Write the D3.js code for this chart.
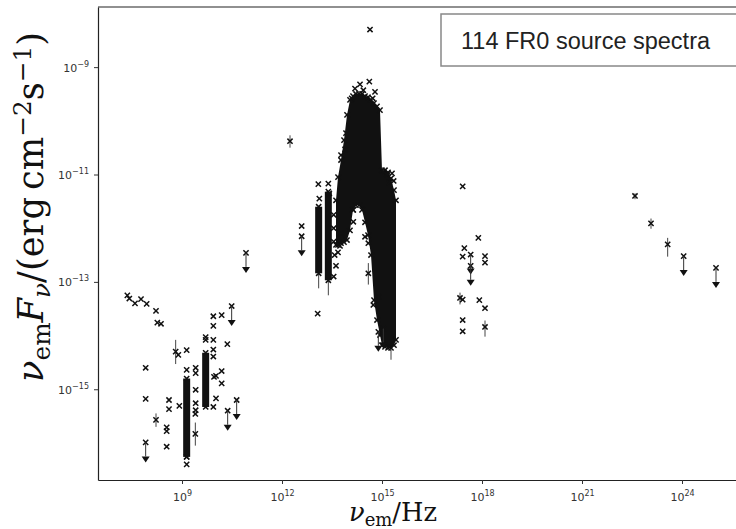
<!DOCTYPE html>
<html>
<head>
<meta charset="utf-8">
<script src="https://cdn.jsdelivr.net/npm/d3@7"></script>
<style>
  body { margin: 0; background: #fff; }
  svg { display: block; }
</style>
</head>
<body>
<svg id="chart" width="736" height="529"></svg>
<script>
// all values are log10: [log nu (Hz), log nuFnu (erg cm-2 s-1)]
const detections = [
    [7.36, -13.25], [7.42, -13.31], [7.59, -13.40], [7.77, -13.32], [7.94, -13.41], [8.22, -13.54],
    [8.26, -13.76], [8.37, -13.78], [8.81, -14.30], [8.89, -14.36], [9.14, -14.27],
    [7.91, -14.60], [7.91, -15.18], [8.22, -15.57],
    [8.61, -15.20], [8.61, -15.37], [8.54, -15.71], [8.54, -15.78], [8.54, -16.07], [8.92, -15.31],
    [9.14, -14.64], [9.14, -16.26], [9.14, -16.40],
    [9.41, -14.60], [9.41, -14.70], [9.41, -15.01], [9.41, -15.26], [9.41, -15.39], [9.40, -15.46], [9.40, -15.83],
    [9.71, -14.03], [9.71, -14.08],
    [9.94, -13.64], [9.94, -13.82], [9.94, -14.08], [9.94, -14.26], [9.94, -14.39], [10.19, -13.62],
    [9.96, -14.77], [10.02, -14.75], [10.19, -14.66], [10.19, -14.89], [10.02, -15.17], [9.94, -15.33],
    [10.36, -14.16],
    [12.24, -10.38], [12.59, -11.96], [13.09, -11.18], [13.12, -11.45], [13.39, -11.17], [13.42, -11.35], [13.07, -13.59],
    [13.55, -11.75], [13.55, -12.00], [13.55, -12.25], [13.58, -12.50], [13.62, -12.70], [13.55, -12.90],
    [13.68, -12.45], [13.74, -12.33], [13.77, -12.10],
    [14.14, -11.66], [14.14, -11.88], [14.49, -12.16], [14.59, -12.28], [14.59, -12.84], [14.74, -13.43], [14.89, -13.28],
    [14.64, -8.30], [14.19, -9.40], [14.34, -9.32], [14.62, -9.27], [14.79, -9.46], [14.09, -9.58], [14.44, -9.43], [14.72, -9.58],
    [13.92, -10.23], [13.77, -10.64], [13.89, -10.53],
    [15.04, -10.95], [15.15, -11.00], [15.30, -10.98], [15.22, -11.15], [15.35, -11.12],
    [17.42, -11.22], [17.89, -12.18], [17.47, -12.37], [17.42, -12.53], [18.09, -12.52], [18.09, -12.64],
    [17.34, -13.30], [17.42, -13.33], [17.92, -13.34], [18.09, -13.49], [17.42, -13.71], [17.42, -13.92], [18.09, -13.84],
    [22.59, -11.40], [23.07, -11.91], [23.57, -12.30]
];

const upperLimits = [
    [7.91, -15.99], [10.49, -13.45], [10.37, -15.40], [10.64, -15.20], [10.92, -12.46], [12.59, -12.15],
    [14.89, -13.93], [15.04, -13.87], [17.66, -12.49], [17.66, -12.70], [24.05, -12.52], [25.02, -12.74]
];

// [log nu, low, high]
const errorBars = [
    [8.81, -14.08, -14.53], [8.22, -15.45, -15.70], [9.40, -15.62, -16.05], [12.24, -10.27, -10.50],
    [13.10, -12.84, -13.12], [13.39, -12.97, -13.25], [14.59, -12.65, -13.05], [17.34, -13.20, -13.42],
    [18.09, -13.72, -14.02], [22.59, -11.35, -11.46], [23.07, -11.82, -12.01], [23.57, -12.18, -12.53],
    [15.27, -14.23, -14.45]
];

// packed columns of overlapping points: [log nu, top, bottom]
const denseColumns = [
    [9.14, -14.80, -16.26], [9.71, -14.32, -15.33], [13.10, -11.60, -12.84], [13.39, -11.32, -12.97]
];

// outline of the big optical/UV cloud: [log nu, top, bottom]
const blobEnvelope = [
    [13.62, -11.48, -12.31], [13.68, -11.05, -12.31], [13.77, -10.73, -12.28], [13.86, -10.36, -12.26],
    [13.95, -9.89, -12.22], [14.04, -9.61, -12.04], [14.13, -9.54, -11.66], [14.22, -9.50, -11.57],
    [14.31, -9.50, -11.57], [14.40, -9.50, -11.66], [14.49, -9.54, -11.89], [14.58, -9.56, -12.13],
    [14.67, -9.61, -12.50], [14.76, -9.67, -13.34], [14.85, -9.73, -13.71], [14.94, -9.80, -13.99],
    [15.00, -10.92, -14.18], [15.09, -10.92, -14.21], [15.18, -10.96, -14.23], [15.27, -11.07, -14.23],
    [15.36, -11.29, -14.18], [15.42, -11.48, -14.08]
];

const xTicks = [9, 12, 15, 18, 21, 24];
const yTicks = [-9, -11, -13, -15];
const legendLabel = '114 FR0 source spectra';

const svg = d3.select('#chart');
const m = { left: 98, right: 760, top: 7, bottom: 480 };

const x = d3.scaleLog().domain([10 ** 6.48, 10 ** 26.34]).range([m.left, m.right]);
const y = d3.scaleLog().domain([10 ** -7.88, 10 ** -16.69]).range([m.top, m.bottom]);
const px = (v) => x(10 ** v);
const py = (v) => y(10 ** v);

const sup = (e) => (e < 0 ? '\u2212' + Math.abs(e) : '' + e);

// axes
const xAxis = svg.append('g')
    .attr('transform', `translate(0,${m.bottom})`)
    .call(d3.axisBottom(x).tickValues(xTicks.map((e) => 10 ** e)).tickSize(4).tickSizeOuter(0).tickFormat(''));
const yAxis = svg.append('g')
    .attr('transform', `translate(${m.left},0)`)
    .call(d3.axisLeft(y).tickValues(yTicks.map((e) => 10 ** e)).tickSize(4).tickSizeOuter(0).tickFormat(''));

[xAxis, yAxis].forEach((g) => {
    g.select('.domain').attr('stroke', '#222').attr('stroke-width', 1.2);
    g.selectAll('.tick line').attr('stroke', '#333');
});

xAxis.selectAll('.tick').each(function (d) {
    const t = d3.select(this).append('text')
        .attr('y', 21).attr('text-anchor', 'middle')
        .attr('fill', '#333').attr('font-family', 'DejaVu Sans').attr('font-size', 11);
    t.append('tspan').text('10');
    t.append('tspan').attr('dy', -5).attr('font-size', 8).text(sup(Math.round(Math.log10(d))));
});
yAxis.selectAll('.tick').each(function (d) {
    const t = d3.select(this).append('text')
        .attr('x', -9).attr('y', 4).attr('text-anchor', 'end')
        .attr('fill', '#333').attr('font-family', 'DejaVu Sans').attr('font-size', 11);
    t.append('tspan').text('10');
    t.append('tspan').attr('dy', -5).attr('font-size', 8).text(sup(Math.round(Math.log10(d))));
});

// top spine
svg.append('line')
    .attr('x1', m.left).attr('x2', m.right).attr('y1', m.top).attr('y2', m.top)
    .attr('stroke', '#222').attr('stroke-width', 1.2);

const plot = svg.append('g');

// error bars
plot.selectAll('line.err')
    .data(errorBars)
    .join('line')
    .attr('class', 'err')
    .attr('x1', (d) => px(d[0])).attr('x2', (d) => px(d[0]))
    .attr('y1', (d) => py(d[1])).attr('y2', (d) => py(d[2]))
    .attr('stroke', '#444').attr('stroke-width', 1);

// the big cloud
const area = d3.area()
    .x((d) => px(d[0]))
    .y0((d) => py(d[2]))
    .y1((d) => py(d[1]));
plot.append('path')
    .attr('d', area(blobEnvelope))
    .attr('fill', '#111');

// packed columns
plot.selectAll('rect.col')
    .data(denseColumns)
    .join('rect')
    .attr('class', 'col')
    .attr('x', (d) => px(d[0]) - 3.5)
    .attr('width', 7)
    .attr('y', (d) => py(d[1]))
    .attr('height', (d) => py(d[2]) - py(d[1]))
    .attr('fill', '#111');

const cross = 'M-2.6,-2.6L2.6,2.6M-2.6,2.6L2.6,-2.6';
const drawMarkers = (data, cls) => {
    plot.selectAll('path.' + cls)
        .data(data)
        .join('path')
        .attr('class', cls)
        .attr('transform', (d) => `translate(${px(d[0])},${py(d[1])})`)
        .attr('d', cross)
        .attr('fill', 'none')
        .attr('stroke', '#111')
        .attr('stroke-width', 1.5);
};

// ragged edges of the cloud and columns
drawMarkers(blobEnvelope.flatMap((d) => [[d[0], d[1]], [d[0], d[2]]]), 'edge');
drawMarkers(denseColumns.flatMap((d) => [[d[0], d[1]], [d[0], d[2]]]), 'colEdge');
drawMarkers(detections, 'det');
drawMarkers(upperLimits, 'ul');

// upper limit arrows
const ul = plot.selectAll('g.arrow')
    .data(upperLimits)
    .join('g')
    .attr('class', 'arrow')
    .attr('transform', (d) => `translate(${px(d[0])},${py(d[1])})`);
ul.append('line')
    .attr('y1', 0).attr('y2', 14)
    .attr('stroke', '#333').attr('stroke-width', 1);
ul.append('path')
    .attr('d', 'M-4,14L4,14L0,20Z')
    .attr('fill', '#111');

// axis labels, sized to the span they take in the figure
const fitWidth = (sel, base, target) => {
    const len = sel.node().getComputedTextLength();
    sel.attr('font-size', base * target / len);
};

const yLabel = svg.append('text')
    .attr('transform', 'translate(43,207) rotate(-90)')
    .attr('text-anchor', 'middle')
    .attr('font-family', 'DejaVu Serif')
    .attr('font-size', 28)
    .attr('fill', '#111');
yLabel.append('tspan').attr('font-style', 'italic').text('\u03bd');
yLabel.append('tspan').attr('font-size', '0.7em').attr('dy', '0.3em').text('em');
yLabel.append('tspan').attr('font-style', 'italic').attr('dy', '-0.21em').text('F');
yLabel.append('tspan').attr('font-style', 'italic').attr('font-size', '0.7em').attr('dy', '0.3em').text('\u03bd');
yLabel.append('tspan').attr('dy', '-0.21em').text('/(erg\u2009cm');
yLabel.append('tspan').attr('font-size', '0.7em').attr('dy', '-0.5em').text('\u22122');
yLabel.append('tspan').attr('dy', '0.35em').text('s');
yLabel.append('tspan').attr('font-size', '0.7em').attr('dy', '-0.5em').text('\u22121');
yLabel.append('tspan').attr('dy', '0.35em').text(')');
fitWidth(yLabel, 28, 350);

const xLabel = svg.append('text')
    .attr('x', 393).attr('y', 521)
    .attr('text-anchor', 'middle')
    .attr('font-family', 'DejaVu Serif')
    .attr('font-size', 28)
    .attr('fill', '#111');
xLabel.append('tspan').attr('font-style', 'italic').text('\u03bd');
xLabel.append('tspan').attr('font-size', '0.7em').attr('dy', '0.3em').text('em');
xLabel.append('tspan').attr('dy', '-0.21em').text('/Hz');
fitWidth(xLabel, 28, 88);

// legend box
svg.append('rect')
    .attr('x', 441).attr('y', 14).attr('width', 320).attr('height', 52)
    .attr('fill', '#fff').attr('stroke', '#888').attr('stroke-width', 1.5);
svg.append('text')
    .attr('x', 461).attr('y', 49)
    .attr('font-family', 'Liberation Sans')
    .attr('font-size', 23.5)
    .attr('fill', '#222')
    .text(legendLabel);
</script>
</body>
</html>
